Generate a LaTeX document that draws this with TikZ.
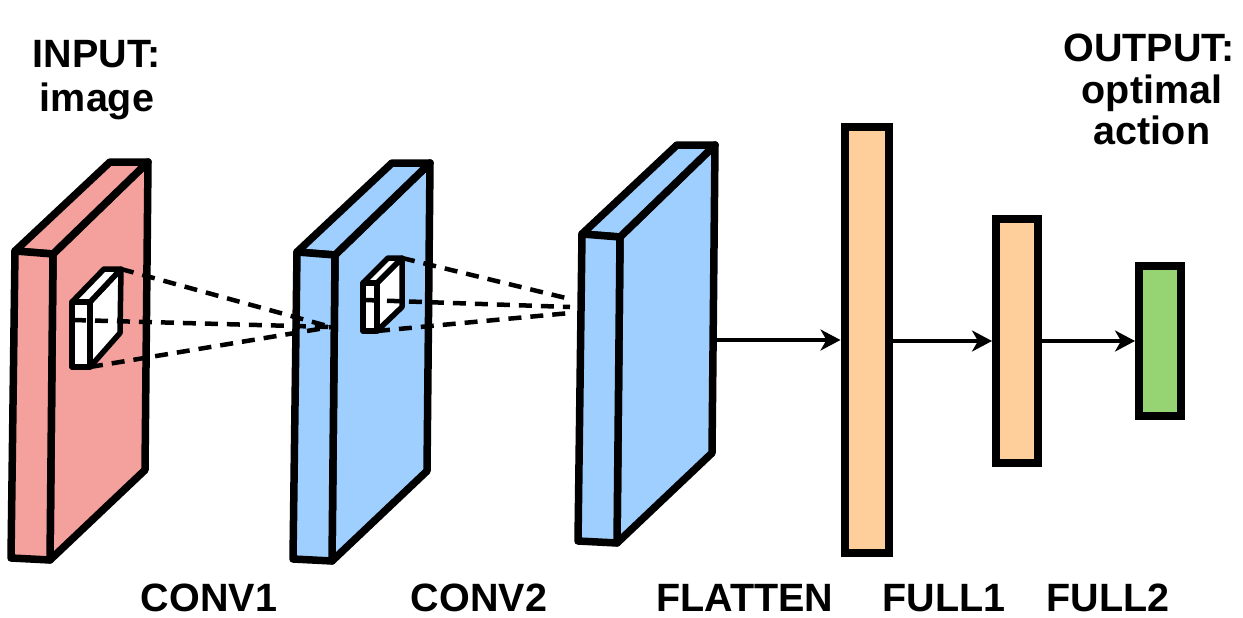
\documentclass[tikz,border=0pt]{standalone}
\usepackage{fontspec}
\setmainfont{Liberation Sans}
\usetikzlibrary{arrows.meta}

\definecolor{inred}{HTML}{F4A09C}
\definecolor{mapblue}{HTML}{9FCFFF}
\definecolor{fcorange}{HTML}{FECE9B}
\definecolor{outgreen}{HTML}{96D473}

\tikzset{
  slabline/.style={draw=black, line width=7.5pt, line join=round},
  kernelbox/.style={draw=black, fill=white, line width=5.5pt, line join=round},
  rfline/.style={draw=black, line width=4.5pt, dash pattern=on 13pt off 9pt},
  fcbox/.style={draw=black, line width=8pt, inner sep=0pt, outer sep=4pt},
  flow/.style={draw=black, line width=3.3pt, -{Stealth[length=20pt,width=21pt,inset=6pt]}},
  lbl/.style={font=\fontsize{39.5}{44}\selectfont\bfseries, inner sep=0pt, anchor=base},
  % a feature-map slab: narrow front face, top face, large side face
  pics/slab/.style={code={
    \path[slabline, fill=#1] (38,3) -- (133,-89) -- (130,219) -- (35,309) -- cycle;
    \path[slabline, fill=#1] (0,0) -- (95,-89) -- (133,-89) -- (38,3) -- cycle;
    \path[slabline, fill=#1] (0,0) -- (38,3) -- (35,309) -- (-4,307) -- cycle;
  }}
}

\begin{document}
\begin{tikzpicture}[x=1pt, y=-1pt]
  \useasboundingbox (0,0) rectangle (1243,618);

  % slabs
  \pic at (15,251) {slab=inred};
  \pic at (297,252) {slab=mapblue};
  \pic at (582,234) {slab=mapblue};

  % kernel on the input slab
  \coordinate (k1a) at (72,302);  \coordinate (k1b) at (90,302);
  \coordinate (k1c) at (90,367);  \coordinate (k1d) at (72,367);
  \coordinate (k1e) at (104,269); \coordinate (k1f) at (121,269);
  \coordinate (k1g) at (120,333);
  \path[kernelbox] (k1b) -- (k1f) -- (k1g) -- (k1c) -- cycle;
  \path[kernelbox] (k1a) -- (k1e) -- (k1f) -- (k1b) -- cycle;
  \path[kernelbox] (k1a) -- (k1b) -- (k1c) -- (k1d) -- cycle;

  % kernel on the second slab
  \coordinate (k2a) at (363,283); \coordinate (k2b) at (377,283);
  \coordinate (k2c) at (377,331); \coordinate (k2d) at (363,331);
  \coordinate (k2e) at (388,258); \coordinate (k2f) at (402,258);
  \coordinate (k2g) at (402,307);
  \path[kernelbox] (k2b) -- (k2f) -- (k2g) -- (k2c) -- cycle;
  \path[kernelbox] (k2a) -- (k2e) -- (k2f) -- (k2b) -- cycle;
  \path[kernelbox] (k2a) -- (k2b) -- (k2c) -- (k2d) -- cycle;

  % receptive field lines
  \coordinate (k1mid) at (73,320);
  \coordinate (c2hit) at (331,327);
  \draw[rfline] (k1f) -- (c2hit);
  \draw[rfline] (k1mid) -- (c2hit);
  \draw[rfline] (k1c) -- (c2hit);

  \coordinate (k2mid) at (365,300);
  \coordinate (flt) at (570,299);
  \coordinate (flm) at (570,307);
  \coordinate (flb) at (570,313);
  \draw[rfline] (k2f) -- (flt);
  \draw[rfline] (k2mid) -- (flm);
  \draw[rfline] (k2c) -- (flb);

  % fully connected layers
  \node[fcbox, fill=fcorange, minimum width=44pt, minimum height=426pt] (fc1) at (866.5,340) {};
  \node[fcbox, fill=fcorange, minimum width=42pt, minimum height=244pt] (fc2) at (1017,341) {};
  \node[fcbox, fill=outgreen, minimum width=42pt, minimum height=150pt] (out) at (1160,341) {};

  \coordinate (flatout) at (710,340);
  \draw[flow] (flatout) -- (fc1.west |- flatout);
  \draw[flow] (fc1.east |- fc2.west) -- (fc2.west);
  \draw[flow] (fc2.east) -- (out.west);

  % labels
  \node[lbl] (inlbl1) at (96.5,67) {INPUT:};
  \node[lbl] (inlbl2) at (97,111) {image};
  \node[lbl] (outlbl1) at (1149,62) {OUTPUT:};
  \node[lbl] (outlbl2) at (1152,103) {optimal};
  \node[lbl] (outlbl3) at (1152,144) {action};

  \node[lbl] (l1) at (209,611) {CONV1};
  \node[lbl] (l2) at (479,611) {CONV2};
  \node[lbl] (l3) at (745,611) {FLATTEN};
  \node[lbl] (l4) at (944,611) {FULL1};
  \node[lbl] (l5) at (1108,611) {FULL2};
\end{tikzpicture}
\end{document}
